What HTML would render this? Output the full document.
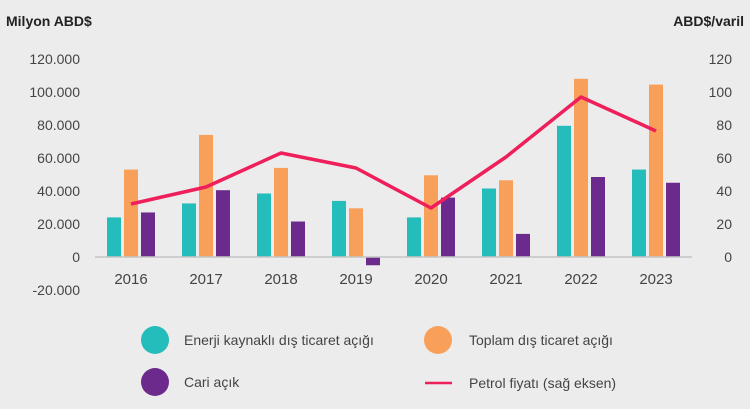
<!DOCTYPE html>
<html><head><meta charset="utf-8"><style>
html,body{margin:0;padding:0;background:#ececec;}
svg{display:block;font-family:"Liberation Sans",sans-serif;}
</style></head><body>
<svg width="750" height="409" viewBox="0 0 750 409">
<rect width="750" height="409" fill="#ececec"/>
<text x="6" y="26" font-size="14" font-weight="bold" fill="#222">Milyon ABD$</text>
<text x="744" y="26" font-size="14" font-weight="bold" fill="#222" text-anchor="end">ABD$/varil</text>
<g font-size="14" fill="#444" text-anchor="end">
<text x="80" y="64">120.000</text><text x="80" y="97">100.000</text><text x="80" y="130">80.000</text><text x="80" y="163">60.000</text><text x="80" y="196">40.000</text><text x="80" y="229">20.000</text><text x="80" y="262">0</text><text x="80" y="295">-20.000</text>
</g>
<g font-size="14" fill="#444" text-anchor="end">
<text x="732" y="64">120</text><text x="732" y="97">100</text><text x="732" y="130">80</text><text x="732" y="163">60</text><text x="732" y="196">40</text><text x="732" y="229">20</text><text x="732" y="262">0</text>
</g>
<g fill="#25bcbc">
<rect x="107" y="217.4" width="14" height="39.6"/>
<rect x="182" y="203.4" width="14" height="53.6"/>
<rect x="257" y="193.5" width="14" height="63.5"/>
<rect x="332" y="200.9" width="14" height="56.1"/>
<rect x="407" y="217.4" width="14" height="39.6"/>
<rect x="482" y="188.5" width="14" height="68.5"/>
<rect x="557" y="125.8" width="14" height="131.2"/>
<rect x="632" y="169.55" width="14" height="87.45"/>
</g>
<g fill="#f8a05a">
<rect x="124" y="169.55" width="14" height="87.45"/>
<rect x="199" y="134.9" width="14" height="122.1"/>
<rect x="274" y="167.9" width="14" height="89.1"/>
<rect x="349" y="208.3" width="14" height="48.7"/>
<rect x="424" y="175.3" width="14" height="81.7"/>
<rect x="499" y="180.3" width="14" height="76.7"/>
<rect x="574" y="78.8" width="14" height="178.2"/>
<rect x="649" y="84.6" width="14" height="172.4"/>
</g>
<g fill="#6b2a8c">
<rect x="141" y="212.45" width="14" height="44.55"/>
<rect x="216" y="190.2" width="14" height="66.8"/>
<rect x="291" y="221.5" width="14" height="35.5"/>
<rect x="366" y="257" width="14" height="8.25"/>
<rect x="441" y="197.6" width="14" height="59.4"/>
<rect x="516" y="233.9" width="14" height="23.1"/>
<rect x="591" y="177" width="14" height="80"/>
<rect x="666" y="182.75" width="14" height="74.25"/>
</g>
<line x1="95" y1="257" x2="692" y2="257" stroke="#c4c4c4" stroke-width="1.5"/>
<g font-size="15" fill="#444" text-anchor="middle">
<text x="131" y="284">2016</text><text x="206" y="284">2017</text><text x="281" y="284">2018</text><text x="356" y="284">2019</text><text x="431" y="284">2020</text><text x="506" y="284">2021</text><text x="581" y="284">2022</text><text x="656" y="284">2023</text>
</g>
<circle cx="155" cy="340" r="14" fill="#25bcbc"/>
<text x="184" y="345" font-size="14" fill="#444">Enerji kaynaklı dış ticaret açığı</text>
<circle cx="438" cy="340" r="14" fill="#f8a05a"/>
<text x="469" y="345" font-size="14" fill="#444">Toplam dış ticaret açığı</text>
<circle cx="155" cy="382" r="14" fill="#6b2a8c"/>
<text x="184" y="387" font-size="14" fill="#444">Cari açık</text>
<line x1="425" y1="383" x2="452" y2="383" stroke="#ee1f5a" stroke-width="2.5"/>
<text x="469" y="388" font-size="14" fill="#444">Petrol fiyatı (sağ eksen)</text>
<polyline fill="none" stroke="#ee1f5a" stroke-width="3.5" stroke-linejoin="round" points="131,204 206,187 281,153 356,168 431,208 506,157 581,97 656,131"/>
</svg>
</body></html>
